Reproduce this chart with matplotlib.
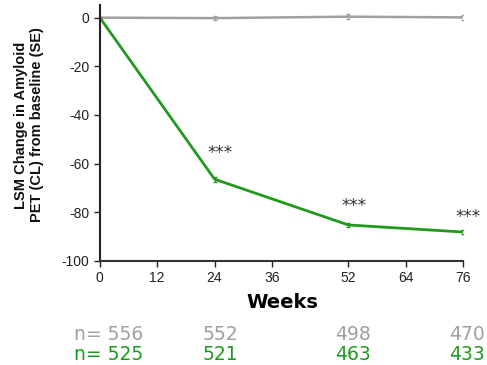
import matplotlib.pyplot as plt
import matplotlib.transforms as mtransforms

plt.rcParams['axes.unicode_minus'] = False

# data
weeks = [0, 24, 52, 76]
placebo = [0, -0.2, 0.4, 0.1]
placebo_se = [0, 0.8, 0.9, 0.9]
drug = [0, -66.4, -85.2, -88.1]
drug_se = [0, 1.0, 1.0, 1.0]
stars = ['', '***', '***', '***']
star_gap = [0, 10.7, 7.6, 6.3]
n_placebo = ['n= 556', '552', '498', '470']
n_drug = ['n= 525', '521', '463', '433']
xticks = [0, 12, 24, 36, 52, 64, 76]
yticks = [0, -20, -40, -60, -80, -100]

gray = '#a0a0a0'
green = '#1f9a1f'

fig = plt.figure(figsize=(4.87, 3.65), dpi=100)
ax = fig.add_axes([0.205, 0.285, 0.746, 0.70])

ax.errorbar(weeks, placebo, yerr=placebo_se, color=gray, lw=1.8, capsize=1.5, elinewidth=0.8)
ax.errorbar(weeks, drug, yerr=drug_se, color=green, lw=2, capsize=1.5, elinewidth=0.8)

for x, y, s, g in zip(weeks, drug, stars, star_gap):
    if s:
        ax.text(x + 1.1, y + g, s, ha='center', va='center', fontsize=12, color='#333333')

ax.set_xlim(0, 76)
ax.set_ylim(-100, 5)
ax.set_xticks(xticks)
ax.set_yticks(yticks)
ax.tick_params(labelsize=10, length=4, width=1, direction='out', colors='#222222')
for lab in ax.get_xticklabels() + ax.get_yticklabels():
    lab.set_family('Liberation Sans')
for side in ['top', 'right']:
    ax.spines[side].set_visible(False)
for side in ['left', 'bottom']:
    ax.spines[side].set_linewidth(1.5)
ax.spines['bottom'].set_color('#333333')
ax.spines['left'].set_color('#222222')

# axis titles
fig.text(29 / 487, 1 - 125 / 365, 'LSM Change in Amyloid\nPET (CL) from baseline (SE)', rotation=90,
         ha='center', va='center', fontsize=10.5, fontweight='bold', family='Liberation Sans',
         linespacing=1.23, color='#111111')
fig.text(0.579, 1 - 302 / 365, 'Weeks', ha='center', va='center', fontsize=14, fontweight='bold')

# numbers at risk
trans = mtransforms.blended_transform_factory(ax.transData, fig.transFigure)
offsets = [1.9, 1.13, 0.99, 0.84]
for x, a, b, o in zip(weeks, n_placebo, n_drug, offsets):
    ax.text(x + o, 1 - 334 / 365, a, transform=trans, ha='center', va='center', fontsize=13.5, color=gray)
    ax.text(x + o, 1 - 354.5 / 365, b, transform=trans, ha='center', va='center', fontsize=13.5, color=green)

plt.savefig('out.png', dpi=100)
